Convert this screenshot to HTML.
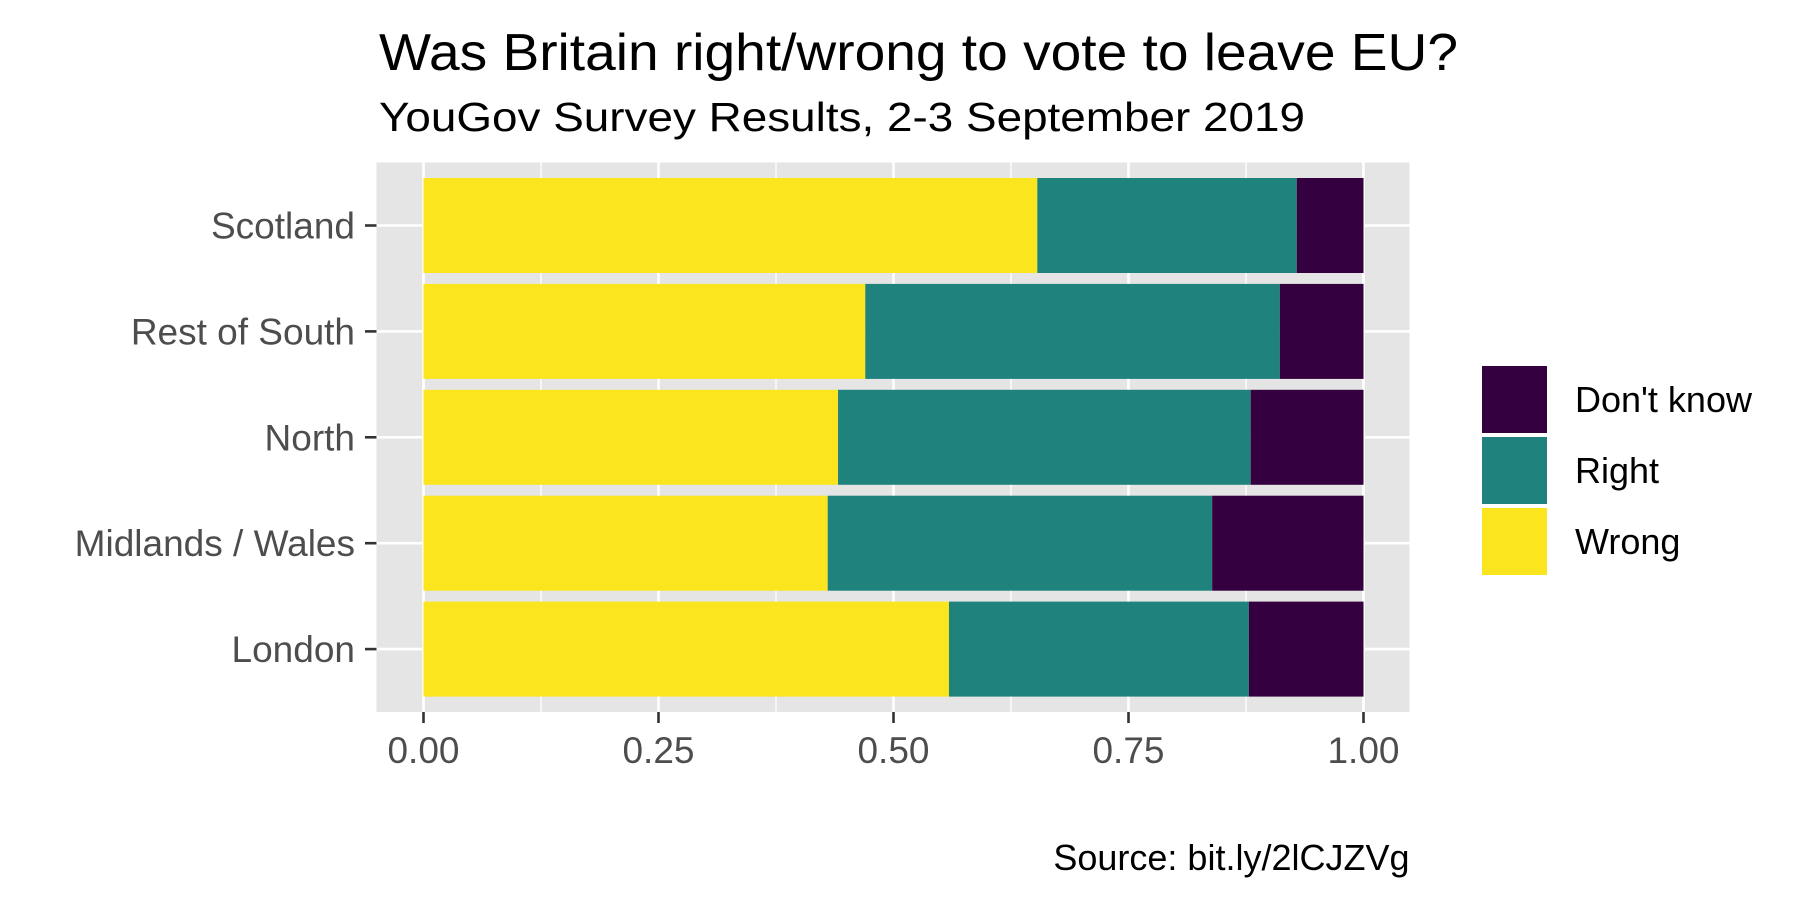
<!DOCTYPE html>
<html><head><meta charset="utf-8"><style>
html,body{margin:0;padding:0;background:#fff}
svg{display:block;font-family:"Liberation Sans",Arial,sans-serif}
</style></head><body>
<svg id="chart" width="1800" height="900" viewBox="0 0 1800 900">
<rect x="0" y="0" width="1800" height="900" fill="#fff"/>
<text x="379" y="70" font-size="52" fill="#000" textLength="1079" lengthAdjust="spacingAndGlyphs">Was Britain right/wrong to vote to leave EU?</text>
<text x="379" y="131" font-size="41" fill="#000" textLength="926" lengthAdjust="spacingAndGlyphs">YouGov Survey Results, 2-3 September 2019</text>
<rect x="376.5" y="162.5" width="1033" height="549.5" fill="#e5e5e5"/>
<g id="grid"></g>
<g id="bars"></g>
<g id="yaxis"></g>
<g id="xaxis"></g>
<g>
<rect x="1481" y="365" width="67" height="69" fill="#35003F" stroke="#fff" stroke-width="2"/>
<rect x="1481" y="436" width="67" height="69" fill="#20827D" stroke="#fff" stroke-width="2"/>
<rect x="1481" y="507" width="67" height="69" fill="#FAE51F" stroke="#fff" stroke-width="2"/>
<text x="1575" y="412" font-size="36" fill="#000">Don't know</text>
<text x="1575" y="483" font-size="36" fill="#000">Right</text>
<text x="1575" y="554" font-size="36" fill="#000">Wrong</text>
</g>
<text x="1409.5" y="870" font-size="36" fill="#000" text-anchor="end">Source: bit.ly/2lCJZVg</text>
</svg>
<script>
const categories = ["Scotland","Rest of South","North","Midlands / Wales","London"];
const wrongValues = [0.653,0.470,0.441,0.430,0.559];
const rightValues = [0.276,0.441,0.439,0.409,0.319];
const dontKnowValues = [0.071,0.089,0.120,0.161,0.122];
const xTicks = [0,0.25,0.5,0.75,1];
const xTickLabels = ["0.00","0.25","0.50","0.75","1.00"];

const NS = "http://www.w3.org/2000/svg";
const X0 = 423.5, X1 = 1363.5, PL = 376.5, PR = 1409.5, PT = 162.5, PB = 712;
const band = 105.9, firstCenter = 225.5, barH = 95;
function xs(v){ return X0 + v*(X1-X0); }
function yc(i){ return firstCenter + i*band; }
function mk(tag, attrs, parent){
  const e = document.createElementNS(NS, tag);
  for (const k in attrs) e.setAttribute(k, attrs[k]);
  parent.appendChild(e); return e;
}
const grid = document.getElementById('grid');
for (let i=0;i<xTicks.length-1;i++){
  const v=(xTicks[i]+xTicks[i+1])/2;
  const l=mk('line',{x1:xs(v),x2:xs(v),y1:PT,y2:PB,stroke:'#fff','stroke-width':1.3},grid);
  
  
}
xTicks.forEach(v=>{
  const l=mk('line',{x1:xs(v),x2:xs(v),y1:PT,y2:PB,stroke:'#fff','stroke-width':2.6},grid);
  
  
});
categories.forEach((c,i)=>{
  const l=mk('line',{x1:PL,x2:PR,y1:yc(i),y2:yc(i),stroke:'#fff','stroke-width':2.6},grid);
  
  
});
const bars = document.getElementById('bars');
categories.forEach((c,i)=>{
  const y=yc(i)-barH/2;
  const segs=[[0,wrongValues[i],'#FAE51F','wrong'],[wrongValues[i],wrongValues[i]+rightValues[i],'#20827D','right'],[wrongValues[i]+rightValues[i],wrongValues[i]+rightValues[i]+dontKnowValues[i],'#35003F','dont-know']];
  segs.forEach(s=>{
    const r=mk('rect',{x:xs(s[0]),y:y,width:xs(s[1])-xs(s[0]),height:barH,fill:s[2]},bars);
    
    
  });
});
const ya = document.getElementById('yaxis');
categories.forEach((c,i)=>{
  const t=mk('line',{x1:365,x2:376.5,y1:yc(i),y2:yc(i),stroke:'#333','stroke-width':2.6},ya);
  
  
  const tx=mk('text',{x:355,y:yc(i)+13,'font-size':37,fill:'#4d4d4d','text-anchor':'end'},ya);
  tx.textContent=c;
  
  
});
const xa = document.getElementById('xaxis');
xTicks.forEach((v,i)=>{
  const t=mk('line',{x1:xs(v),x2:xs(v),y1:PB,y2:PB+11,stroke:'#333','stroke-width':2.6},xa);
  
  
  const tx=mk('text',{x:xs(v),y:763,'font-size':37,fill:'#4d4d4d','text-anchor':'middle'},xa);
  tx.textContent=xTickLabels[i];
  
  
});
</script>
</body></html>
